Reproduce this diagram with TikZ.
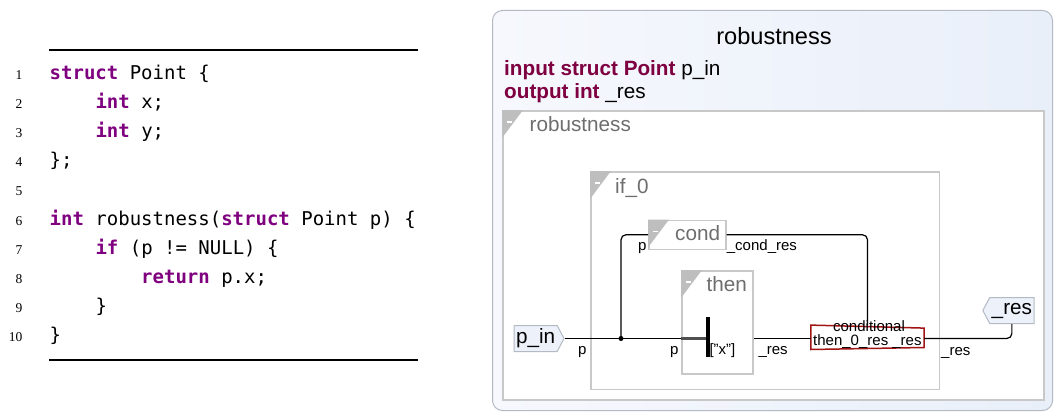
\documentclass[tikz,border=0pt]{standalone}
\usepackage{fontspec}
\usepackage{xcolor}
\usepackage{tikz}
\usetikzlibrary{positioning,shapes.symbols}
\setmainfont{Liberation Sans}
\newfontfamily\codefont{DejaVu Sans Mono}
\newfontfamily\numfont{Liberation Serif}

\definecolor{codekw}{RGB}{127,0,127}
\definecolor{diakw}{RGB}{127,0,64}
\definecolor{boxgray}{RGB}{200,200,200}
\definecolor{trigray}{RGB}{190,190,190}
\definecolor{labgray}{RGB}{110,110,110}
\definecolor{condred}{RGB}{160,20,20}
\definecolor{portfill}{RGB}{236,241,250}
\definecolor{portline}{RGB}{180,186,196}
\definecolor{outerleft}{RGB}{246,248,253}
\definecolor{outerright}{RGB}{233,239,249}
\definecolor{selgray}{RGB}{80,80,80}

\newcommand{\kw}[1]{{\bfseries\color{codekw}#1}}
\newcommand{\dkw}[1]{{\bfseries\color{diakw}#1}}
\newcommand{\blockmark}[1]{%
  \fill[trigray] (#1.north west) -- ++(21,0) -- ++(-21,28) -- cycle;
  \draw[white,line width=1.5pt] ([shift={(5,12)}]#1.north west) -- ++(5,0);}

\tikzset{
  lineno/.style={anchor=base east,inner sep=0pt,font=\numfont\fontsize{13.5}{16}\selectfont},
  codeline/.style={anchor=base west,inner sep=0pt,font=\codefont\fontsize{19}{22}\selectfont},
  outerbox/.style={draw=portline,line width=1pt,rounded corners=10pt,left color=outerleft,right color=outerright,anchor=north west,inner sep=0pt},
  block/.style={draw=boxgray,line width=1.5pt,fill=white,anchor=north west,inner sep=0pt},
  blocklabel/.style={anchor=base west,inner sep=0pt,text=labgray,font=\fontsize{20.7}{24}\selectfont},
  headline/.style={anchor=base west,inner sep=0pt,font=\fontsize{20.7}{24}\selectfont},
  wirelabel/.style={anchor=base west,inner sep=0pt,font=\fontsize{15}{18}\selectfont},
  wire/.style={line width=1.2pt,rounded corners=5pt},
  port/.style={signal,draw=portline,fill=portfill,line width=1pt,inner xsep=2pt,inner ysep=0pt,
    signal pointer angle=124,minimum height=26pt,font=\fontsize{20.7}{24}\selectfont},
}

\begin{document}
\begin{tikzpicture}[x=1pt,y=-1pt]
\useasboundingbox (0,0) rectangle (1055,412);

\draw[line width=1.1pt] (49.3,50) -- (418.3,50);
\draw[line width=1.1pt] (49.3,360) -- (418.3,360);

\foreach \n in {1,...,10}
  \node[lineno] (num\n) at (22.5,{79.3+29.15*(\n-1)}) {\n};

\node[codeline] (c1) at (49.5,79.3) {\kw{struct} Point \{};
\node[codeline] (c2) at (95.3,108.45) {\kw{int} x;};
\node[codeline] (c3) at (95.3,137.6) {\kw{int} y;};
\node[codeline] (c4) at (49.5,166.75) {\};};
\node[codeline] (c6) at (49.5,225.05) {\kw{int} robustness(\kw{struct} Point p) \{};
\node[codeline] (c7) at (95.3,254.2) {\kw{if} (p != NULL) \{};
\node[codeline] (c8) at (141,283.35) {\kw{return} p.x;};
\node[codeline] (c9) at (95.3,312.5) {\}};
\node[codeline] (c10) at (49.5,341.65) {\}};

\node[outerbox,minimum width=560,minimum height=400] (robox) at (492,10) {};
\node[anchor=base,inner sep=0pt,font=\fontsize{23.6}{28}\selectfont] (title) at (774,45) {robustness};
\node[headline] (inputs) at (504,75.7) {\dkw{input struct Point} p\_in};
\node[headline] (outputs) at (504,98.3) {\dkw{output int} \_res};

\node[block,minimum width=541,minimum height=289] (robody) at (502,110) {};
\blockmark{robody}
\node[blocklabel] (robodylab) at (529.5,131.5) {robustness};

\node[block,minimum width=348.5,minimum height=217.5] (if0) at (590,171) {};
\blockmark{if0}
\node[blocklabel] (if0lab) at (615,193) {if\_0};

\node[block,minimum width=77,minimum height=29] (cond) at (648,219.5) {};
\blockmark{cond}
\node[blocklabel] (condlab) at (675,240.5) {cond};

\node[block,minimum width=71,minimum height=103] (then) at (681,270) {};
\blockmark{then}
\node[blocklabel] (thenlab) at (706.5,291.5) {then};

\node[port,signal to=east,anchor=west] (pin) at (513.5,338.5) {p\_in};
\node[port,signal to=west,anchor=east] (res) at (1034.5,310.5) {\_res};

\node[minimum width=113,minimum height=24,inner sep=0pt] (ite) at (867.5,337.3) {};
\draw[condred,line width=1.5pt] (ite.north west) -- ([yshift=-3pt]ite.north east)
  -- ([yshift=2pt]ite.south east) -- (ite.south west) -- cycle;
\node[anchor=base,inner sep=0pt,font=\fontsize{15}{18}\selectfont] (itelab1) at (869,331) {conditional};
\node[anchor=base,inner sep=0pt,font=\fontsize{15}{18}\selectfont] (itelab2) at (867.4,345.5) {then\_0\_res \_res};

\coordinate (split) at (621,338.5);
\node[fill=black,minimum width=4,minimum height=40,inner sep=0pt] (xbar) at (708,337.3) {};

\draw[wire] (pin.east) -- (pin.east -| then.west);
\draw[selgray,line width=2.7pt] (pin.east -| then.west) -- (pin.east -| xbar.west);
\draw[wire] (split) |- (cond.west);
\fill (split) circle (2.5);
\draw[wire] (pin.east -| then.east) -- (pin.east -| ite.west);
\draw[wire] (cond.east) -| (ite.north);
\draw[wire] (pin.east -| ite.east) -| (res.south);

\node[wirelabel] (lp1) at (578,354) {p};
\node[wirelabel] (lp2) at (638,250) {p};
\node[wirelabel] (lcond) at (726.7,250) {\_cond\_res};
\node[wirelabel] (lp3) at (670,354) {p};
\node[wirelabel] (lx) at (709.3,354) {["x"]};
\node[wirelabel] (lres1) at (758.3,354.5) {\_res};
\node[wirelabel] (lres2) at (941,355) {\_res};
\end{tikzpicture}
\end{document}
